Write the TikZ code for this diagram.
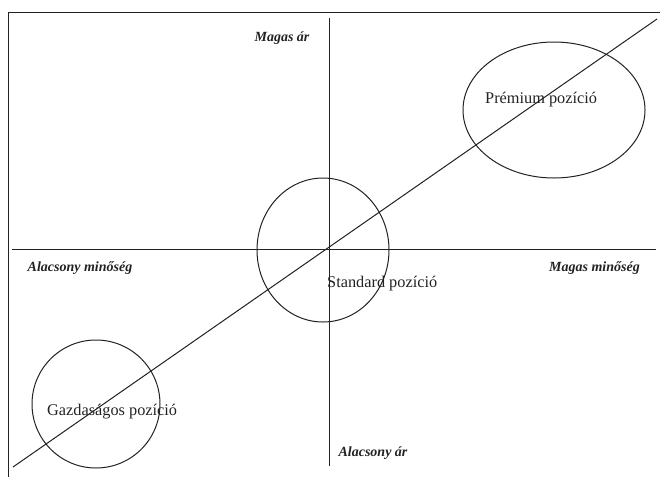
\documentclass[tikz,border=0pt]{standalone}
\usepackage{fontspec}
\setmainfont{Liberation Serif}
\usetikzlibrary{shapes.geometric}
\definecolor{ink}{HTML}{222222}
\tikzset{
  ln/.style={draw=ink, line width=1pt},
  ring/.style={ellipse, draw=ink, line width=1pt, inner sep=0pt},
  axlabel/.style={font=\fontsize{14}{16}\selectfont\itshape\bfseries, text=ink, inner sep=0pt},
  poslabel/.style={font=\fontsize{16.3}{19}\selectfont, text=ink, inner sep=0pt}
}
\begin{document}
\begin{tikzpicture}[x=1pt,y=-1pt]
\useasboundingbox (0,0) rectangle (660,477);
% frame (cropped)
\coordinate (fl) at (8,477);
\coordinate (ftl) at (8,12);
\coordinate (fr) at (660,12);
\draw[ln] (fl) -- (ftl) -- (fr);
% axes
\coordinate (vt) at (329,18);
\coordinate (vb) at (329,466);
\coordinate (hl) at (12,249);
\coordinate (hr) at (656,249);
\draw[ln] (vt) -- (vb);
\draw[ln] (hl) -- (hr);
% diagonal
\coordinate (d1) at (13,467);
\coordinate (d2) at (657,19);
\draw[ln] (d1) -- (d2);
% rings
\node[ring, minimum width=132pt, minimum height=144pt] (std) at (323,250) {};
\node[ring, minimum width=182pt, minimum height=136pt] (prem) at (554,110) {};
\node[ring, minimum width=128pt, minimum height=128pt] (gazd) at (96,404) {};
% labels
\node[axlabel] (magasar) at (282,38) {Magas ár};
\node[axlabel] (alacsminoseg) at (80,268) {Alacsony minőség};
\node[axlabel, anchor=east] (magasminoseg) at (640,268) {Magas minőség};
\node[axlabel] (alacsar) at (373,453) {Alacsony ár};
\node[poslabel, anchor=west] (stdtext) at (327,284) {Standard pozíció};
\node[poslabel, anchor=west] (premtext) at (485,100) {Prémium pozíció};
\node[poslabel, anchor=west] (gazdtext) at (47,412) {Gazdaságos pozíció};
\end{tikzpicture}
\end{document}
